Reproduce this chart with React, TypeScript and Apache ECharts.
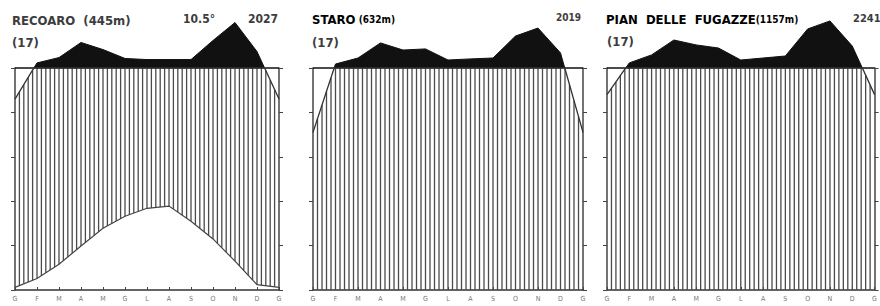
import React, { useEffect, useRef } from "react";
import * as echarts from "echarts";

// Month letters (Italian), January repeated at the end
const months = ["G", "F", "M", "A", "M", "G", "L", "A", "S", "O", "N", "D", "G"];

// Monthly precipitation (mm), Jan..Dec + Jan
const recoaroPrecip = [86, 123, 147, 215, 183, 143, 138, 138, 138, 224, 305, 174, 86];
const staroPrecip = [71, 118, 145, 213, 181, 186, 136, 141, 145, 244, 280, 168, 71];
const fugazzePrecip = [88, 123, 159, 226, 204, 190, 136, 145, 154, 276, 312, 199, 88];

// Monthly mean temperature (°C) — only Recoaro
const recoaroTemp = [0.6, 2.6, 5.8, 9.9, 13.9, 16.6, 18.4, 18.9, 15.5, 11.5, 6.5, 1.2, 0.6];

const yTicks = [0, 20, 40, 60, 80, 100];

const FONT = "'DejaVu Sans Condensed', 'Liberation Sans Narrow', 'DejaVu Sans', sans-serif";
const INK = "#3d3d3d";

// Walter–Lieth display scale: above 100 mm the scale is reduced 10x
const disp = (p: number) => (p <= 100 ? p : 100 + (p - 100) / 10);

function interp(arr: number[], u: number) {
  const i = Math.min(Math.floor(u), arr.length - 2);
  const f = u - i;
  return arr[i] * (1 - f) + arr[i + 1] * f;
}

function makeRenderer(precip: number[], temp: number[] | null) {
  return (_params: any, api: any) => {
    const d = precip.map(disp);
    const n = d.length;
    const upper: number[][] = [];
    const lower: number[][] = [];
    for (let i = 0; i < n; i++) {
      upper.push(api.coord([i, Math.max(d[i], 100)]));
      lower.push(api.coord([i, Math.min(d[i], 100)]));
      if (i < n - 1 && (d[i] - 100) * (d[i + 1] - 100) < 0) {
        const f = (100 - d[i]) / (d[i + 1] - d[i]);
        const c = api.coord([i + f, 100]);
        upper.push(c);
        lower.push(c);
      }
    }
    const children: any[] = [];
    const steps = (n - 1) * 5;
    for (let k = 1; k < steps; k++) {
      const u = k / 5;
      const top = Math.min(interp(d, u), 100);
      const bot = temp ? 2 * interp(temp, u) : 0;
      if (top <= bot) continue;
      const a = api.coord([u, top]);
      const b = api.coord([u, bot]);
      children.push({
        type: "line",
        shape: { x1: a[0], y1: a[1], x2: b[0], y2: b[1] },
        style: { stroke: "#4a4a4a", lineWidth: 1.3 },
      });
    }
    children.push({
      type: "polygon",
      shape: { points: [...upper, api.coord([n - 1, 100]), api.coord([0, 100])] },
      style: { fill: "#111", stroke: "#111", lineWidth: 1 },
    });
    children.push({
      type: "polyline",
      shape: { points: lower },
      style: { stroke: "#333", lineWidth: 1.3, fill: null },
    });
    if (temp) {
      children.push({
        type: "polyline",
        shape: { points: temp.map((t, i) => api.coord([i, 2 * t])) },
        style: { stroke: "#444", lineWidth: 1.2, fill: null },
      });
    }
    return { type: "group", children };
  };
}

const panels = [
  { left: 15, width: 264, precip: recoaroPrecip, temp: recoaroTemp },
  { left: 313, width: 270, precip: staroPrecip, temp: null },
  { left: 607, width: 270, precip: fugazzePrecip, temp: null },
];

export default function App() {
  const ref = useRef<HTMLDivElement>(null);
  useEffect(() => {
    if (!ref.current) return;
    const chart = echarts.init(ref.current, undefined, { renderer: "svg" });
    const grids: any[] = [];
    const xAxes: any[] = [];
    const yAxes: any[] = [];
    const series: any[] = [];
    panels.forEach((p, i) => {
      grids.push({ left: p.left, top: 68, width: p.width, height: 222 });
      xAxes.push({
        type: "value",
        gridIndex: i,
        min: 0,
        max: months.length - 1,
        interval: 1,
        axisLine: { show: true, lineStyle: { color: "#333", width: 1.5 } },
        axisTick: { show: true, inside: true, length: 3, lineStyle: { color: "#444" } },
        axisLabel: {
          show: true,
          formatter: (v: number) => months[v] ?? "",
          fontSize: 7,
          fontFamily: FONT,
          color: "#777",
          margin: 5,
          showMinLabel: true,
          showMaxLabel: true,
        },
        splitLine: { show: false },
      });
      ["left", "right"].forEach((pos) => {
        yAxes.push({
          type: "value",
          gridIndex: i,
          position: pos,
          min: yTicks[0],
          max: yTicks[yTicks.length - 1],
          interval: yTicks[1] - yTicks[0],
          axisLine: { show: true, lineStyle: { color: "#444", width: 1.5 } },
          axisTick: { show: true, inside: false, length: 4, lineStyle: { color: "#444" } },
          axisLabel: { show: false },
          splitLine: { show: false },
        });
      });
      series.push({
        type: "custom",
        xAxisIndex: i,
        yAxisIndex: i * 2,
        data: [[0, 0]],
        clip: false,
        silent: true,
        renderItem: makeRenderer(p.precip, p.temp),
      });
    });

    const big = { fontFamily: FONT, fontSize: 13, fill: INK, fontWeight: "bold" };
    const txt = (x: number, y: number, text: string, extra: any = {}) => ({
      type: "text",
      x,
      y,
      silent: true,
      style: { text, verticalAlign: "middle", align: "left", ...big, ...extra },
    });

    chart.setOption({
      animation: false,
      backgroundColor: "#fff",
      grid: grids,
      xAxis: xAxes,
      yAxis: yAxes,
      series,
      graphic: [
        txt(12, 20, "RECOARO  (445m)"),
        txt(183, 19, "10.5°", { fontSize: 12 }),
        txt(248, 19, "2027", { fontSize: 12 }),
        txt(12, 42, "(17)"),
        {
          type: "text",
          x: 312,
          y: 19,
          silent: true,
          style: {
            text: "{a|STARO} {b|(632m)}",
            verticalAlign: "middle",
            rich: {
              a: { fontFamily: FONT, fontSize: 13, fontWeight: "bold", color: INK },
              b: { fontFamily: FONT, fontSize: 10, fontWeight: "bold", color: INK },
            },
          },
        },
        txt(556, 17, "2019", { fontSize: 10 }),
        txt(312, 42, "(17)"),
        {
          type: "text",
          x: 606,
          y: 19,
          silent: true,
          style: {
            text: "{a|PIAN  DELLE  FUGAZZE}{b|(1157m)}",
            verticalAlign: "middle",
            rich: {
              a: { fontFamily: FONT, fontSize: 13, fontWeight: "bold", color: INK },
              b: { fontFamily: FONT, fontSize: 10, fontWeight: "bold", color: INK },
            },
          },
        },
        txt(853, 18, "2241", { fontSize: 11 }),
        txt(607, 41, "(17)"),
      ],
    });
    return () => chart.dispose();
  }, []);
  return (
    <div
      ref={ref}
      style={{ position: "absolute", left: 0, top: 0, width: 880, height: 306, background: "#fff" }}
    />
  );
}
